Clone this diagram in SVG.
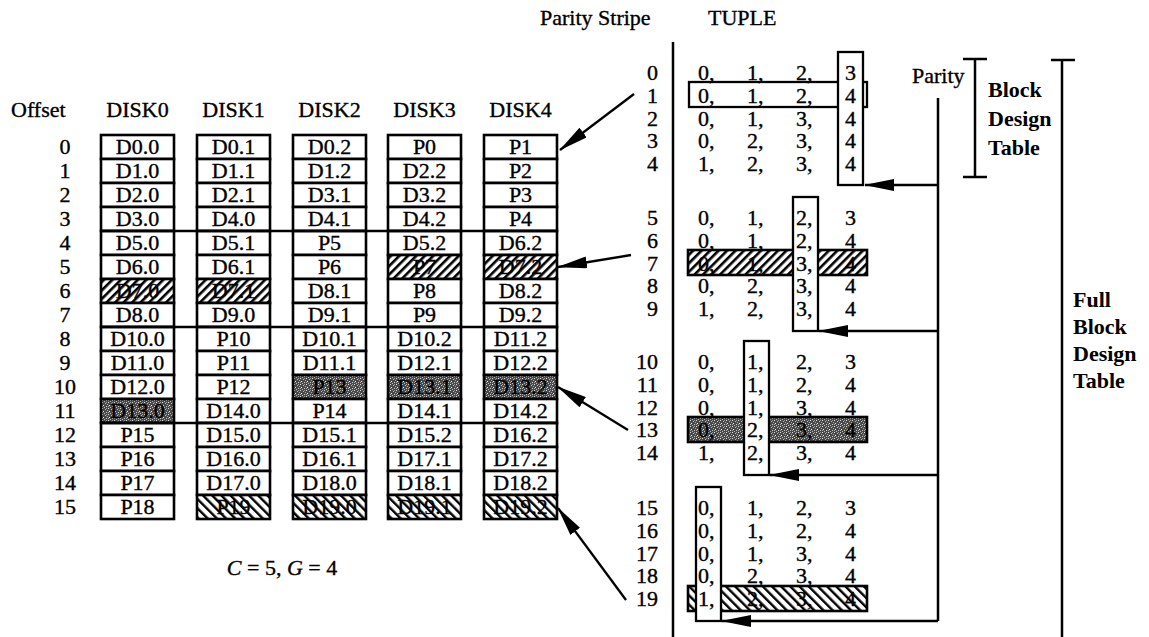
<svg xmlns="http://www.w3.org/2000/svg" width="1149" height="637" viewBox="0 0 1149 637">
<style>
text{font-family:"Liberation Serif","Times New Roman",serif;font-size:22px;fill:#000;stroke:#000;stroke-width:0.35}
.m{text-anchor:middle}
.e{text-anchor:end}
.b{font-weight:bold;stroke-width:0}
.cell{fill:#fff;stroke:#000;stroke-width:2.6}
.hf{fill:url(#hatchF);stroke:#000;stroke-width:2.6}
.hb{fill:url(#hatchB);stroke:#000;stroke-width:2.6}
.st{fill:url(#stip);stroke:#000;stroke-width:2.6}
.ln{stroke:#000;stroke-width:2.5;fill:none}
.box{fill:#fff;stroke:#000;stroke-width:2.3}
.hbox{fill:none;stroke:#000;stroke-width:2.3}
.arr{stroke:#000;stroke-width:2.3;fill:none;marker-end:url(#ah)}
</style>
<defs>
<pattern id="hatchF" width="6" height="6" patternUnits="userSpaceOnUse" patternTransform="rotate(45)"><rect width="6" height="6" fill="#fff"/><rect width="2.6" height="6" fill="#000"/></pattern>
<pattern id="hatchB" width="6.5" height="6.5" patternUnits="userSpaceOnUse" patternTransform="rotate(-45)"><rect width="6.5" height="6.5" fill="#fff"/><rect width="2.4" height="6.5" fill="#000"/></pattern>
<pattern id="stip" width="6" height="6" patternUnits="userSpaceOnUse"><rect width="6" height="6" fill="#4a4a4a"/><rect x="0" y="0" width="1" height="1" fill="#ddd"/><rect x="3" y="1" width="1" height="1" fill="#bbb"/><rect x="1" y="3" width="1" height="1" fill="#eee"/><rect x="4" y="4" width="1" height="1" fill="#ccc"/><rect x="5" y="2" width="1" height="1" fill="#aaa"/><rect x="2" y="5" width="1" height="1" fill="#bbb"/><rect x="4" y="0" width="1" height="1" fill="#999"/><rect x="0" y="4" width="1" height="1" fill="#aaa"/></pattern>
<marker id="ah" viewBox="0 0 30 12" refX="29" refY="6" markerWidth="30" markerHeight="12" markerUnits="userSpaceOnUse" orient="auto"><path d="M0,0 L30,6 L0,12 z" fill="#000"/></marker>
</defs>
<rect width="1149" height="637" fill="#fff"/>

<g id="headers">
<text x="11" y="117">Offset</text>
<text class="m" x="137.5" y="117">DISK0</text>
<text class="m" x="233.5" y="117">DISK1</text>
<text class="m" x="329.5" y="117">DISK2</text>
<text class="m" x="424.5" y="117">DISK3</text>
<text class="m" x="520.5" y="117">DISK4</text>
<text x="540" y="25">Parity Stripe</text>
<text x="708" y="25">TUPLE</text>
</g>

<g id="offsets">
<text class="m" x="65" y="154">0</text><text class="m" x="65" y="178">1</text><text class="m" x="65" y="202">2</text><text class="m" x="65" y="226">3</text>
<text class="m" x="65" y="250">4</text><text class="m" x="65" y="274">5</text><text class="m" x="65" y="298">6</text><text class="m" x="65" y="322">7</text>
<text class="m" x="65" y="346">8</text><text class="m" x="65" y="370">9</text><text class="m" x="65" y="394">10</text><text class="m" x="65" y="418">11</text>
<text class="m" x="65" y="442">12</text><text class="m" x="65" y="466">13</text><text class="m" x="65" y="490">14</text><text class="m" x="65" y="514">15</text>
</g>

<g id="disk0">
<rect class="cell" x="101" y="135" width="73" height="24"/><text class="m" x="137.5" y="154">D0.0</text>
<rect class="cell" x="101" y="159" width="73" height="24"/><text class="m" x="137.5" y="178">D1.0</text>
<rect class="cell" x="101" y="183" width="73" height="24"/><text class="m" x="137.5" y="202">D2.0</text>
<rect class="cell" x="101" y="207" width="73" height="24"/><text class="m" x="137.5" y="226">D3.0</text>
<rect class="cell" x="101" y="231" width="73" height="24"/><text class="m" x="137.5" y="250">D5.0</text>
<rect class="cell" x="101" y="255" width="73" height="24"/><text class="m" x="137.5" y="274">D6.0</text>
<rect class="hf" x="101" y="279" width="73" height="24"/><text class="m" x="137.5" y="298">D7.0</text>
<rect class="cell" x="101" y="303" width="73" height="24"/><text class="m" x="137.5" y="322">D8.0</text>
<rect class="cell" x="101" y="327" width="73" height="24"/><text class="m" x="137.5" y="346">D10.0</text>
<rect class="cell" x="101" y="351" width="73" height="24"/><text class="m" x="137.5" y="370">D11.0</text>
<rect class="cell" x="101" y="375" width="73" height="24"/><text class="m" x="137.5" y="394">D12.0</text>
<rect class="st" x="101" y="399" width="73" height="24"/><text class="m" x="137.5" y="418">D13.0</text>
<rect class="cell" x="101" y="423" width="73" height="24"/><text class="m" x="137.5" y="442">P15</text>
<rect class="cell" x="101" y="447" width="73" height="24"/><text class="m" x="137.5" y="466">P16</text>
<rect class="cell" x="101" y="471" width="73" height="24"/><text class="m" x="137.5" y="490">P17</text>
<rect class="cell" x="101" y="495" width="73" height="24"/><text class="m" x="137.5" y="514">P18</text>
</g>

<g id="disk1">
<rect class="cell" x="197" y="135" width="73" height="24"/><text class="m" x="233.5" y="154">D0.1</text>
<rect class="cell" x="197" y="159" width="73" height="24"/><text class="m" x="233.5" y="178">D1.1</text>
<rect class="cell" x="197" y="183" width="73" height="24"/><text class="m" x="233.5" y="202">D2.1</text>
<rect class="cell" x="197" y="207" width="73" height="24"/><text class="m" x="233.5" y="226">D4.0</text>
<rect class="cell" x="197" y="231" width="73" height="24"/><text class="m" x="233.5" y="250">D5.1</text>
<rect class="cell" x="197" y="255" width="73" height="24"/><text class="m" x="233.5" y="274">D6.1</text>
<rect class="hf" x="197" y="279" width="73" height="24"/><text class="m" x="233.5" y="298">D7.1</text>
<rect class="cell" x="197" y="303" width="73" height="24"/><text class="m" x="233.5" y="322">D9.0</text>
<rect class="cell" x="197" y="327" width="73" height="24"/><text class="m" x="233.5" y="346">P10</text>
<rect class="cell" x="197" y="351" width="73" height="24"/><text class="m" x="233.5" y="370">P11</text>
<rect class="cell" x="197" y="375" width="73" height="24"/><text class="m" x="233.5" y="394">P12</text>
<rect class="cell" x="197" y="399" width="73" height="24"/><text class="m" x="233.5" y="418">D14.0</text>
<rect class="cell" x="197" y="423" width="73" height="24"/><text class="m" x="233.5" y="442">D15.0</text>
<rect class="cell" x="197" y="447" width="73" height="24"/><text class="m" x="233.5" y="466">D16.0</text>
<rect class="cell" x="197" y="471" width="73" height="24"/><text class="m" x="233.5" y="490">D17.0</text>
<rect class="hb" x="197" y="495" width="73" height="24"/><text class="m" x="233.5" y="514">P19</text>
</g>

<g id="disk2">
<rect class="cell" x="293" y="135" width="73" height="24"/><text class="m" x="329.5" y="154">D0.2</text>
<rect class="cell" x="293" y="159" width="73" height="24"/><text class="m" x="329.5" y="178">D1.2</text>
<rect class="cell" x="293" y="183" width="73" height="24"/><text class="m" x="329.5" y="202">D3.1</text>
<rect class="cell" x="293" y="207" width="73" height="24"/><text class="m" x="329.5" y="226">D4.1</text>
<rect class="cell" x="293" y="231" width="73" height="24"/><text class="m" x="329.5" y="250">P5</text>
<rect class="cell" x="293" y="255" width="73" height="24"/><text class="m" x="329.5" y="274">P6</text>
<rect class="cell" x="293" y="279" width="73" height="24"/><text class="m" x="329.5" y="298">D8.1</text>
<rect class="cell" x="293" y="303" width="73" height="24"/><text class="m" x="329.5" y="322">D9.1</text>
<rect class="cell" x="293" y="327" width="73" height="24"/><text class="m" x="329.5" y="346">D10.1</text>
<rect class="cell" x="293" y="351" width="73" height="24"/><text class="m" x="329.5" y="370">D11.1</text>
<rect class="st" x="293" y="375" width="73" height="24"/><text class="m" x="329.5" y="394">P13</text>
<rect class="cell" x="293" y="399" width="73" height="24"/><text class="m" x="329.5" y="418">P14</text>
<rect class="cell" x="293" y="423" width="73" height="24"/><text class="m" x="329.5" y="442">D15.1</text>
<rect class="cell" x="293" y="447" width="73" height="24"/><text class="m" x="329.5" y="466">D16.1</text>
<rect class="cell" x="293" y="471" width="73" height="24"/><text class="m" x="329.5" y="490">D18.0</text>
<rect class="hb" x="293" y="495" width="73" height="24"/><text class="m" x="329.5" y="514">D19.0</text>
</g>

<g id="disk3">
<rect class="cell" x="388" y="135" width="73" height="24"/><text class="m" x="424.5" y="154">P0</text>
<rect class="cell" x="388" y="159" width="73" height="24"/><text class="m" x="424.5" y="178">D2.2</text>
<rect class="cell" x="388" y="183" width="73" height="24"/><text class="m" x="424.5" y="202">D3.2</text>
<rect class="cell" x="388" y="207" width="73" height="24"/><text class="m" x="424.5" y="226">D4.2</text>
<rect class="cell" x="388" y="231" width="73" height="24"/><text class="m" x="424.5" y="250">D5.2</text>
<rect class="hf" x="388" y="255" width="73" height="24"/><text class="m" x="424.5" y="274">P7</text>
<rect class="cell" x="388" y="279" width="73" height="24"/><text class="m" x="424.5" y="298">P8</text>
<rect class="cell" x="388" y="303" width="73" height="24"/><text class="m" x="424.5" y="322">P9</text>
<rect class="cell" x="388" y="327" width="73" height="24"/><text class="m" x="424.5" y="346">D10.2</text>
<rect class="cell" x="388" y="351" width="73" height="24"/><text class="m" x="424.5" y="370">D12.1</text>
<rect class="st" x="388" y="375" width="73" height="24"/><text class="m" x="424.5" y="394">D13.1</text>
<rect class="cell" x="388" y="399" width="73" height="24"/><text class="m" x="424.5" y="418">D14.1</text>
<rect class="cell" x="388" y="423" width="73" height="24"/><text class="m" x="424.5" y="442">D15.2</text>
<rect class="cell" x="388" y="447" width="73" height="24"/><text class="m" x="424.5" y="466">D17.1</text>
<rect class="cell" x="388" y="471" width="73" height="24"/><text class="m" x="424.5" y="490">D18.1</text>
<rect class="hb" x="388" y="495" width="73" height="24"/><text class="m" x="424.5" y="514">D19.1</text>
</g>

<g id="disk4">
<rect class="cell" x="484" y="135" width="73" height="24"/><text class="m" x="520.5" y="154">P1</text>
<rect class="cell" x="484" y="159" width="73" height="24"/><text class="m" x="520.5" y="178">P2</text>
<rect class="cell" x="484" y="183" width="73" height="24"/><text class="m" x="520.5" y="202">P3</text>
<rect class="cell" x="484" y="207" width="73" height="24"/><text class="m" x="520.5" y="226">P4</text>
<rect class="cell" x="484" y="231" width="73" height="24"/><text class="m" x="520.5" y="250">D6.2</text>
<rect class="hf" x="484" y="255" width="73" height="24"/><text class="m" x="520.5" y="274">D7.2</text>
<rect class="cell" x="484" y="279" width="73" height="24"/><text class="m" x="520.5" y="298">D8.2</text>
<rect class="cell" x="484" y="303" width="73" height="24"/><text class="m" x="520.5" y="322">D9.2</text>
<rect class="cell" x="484" y="327" width="73" height="24"/><text class="m" x="520.5" y="346">D11.2</text>
<rect class="cell" x="484" y="351" width="73" height="24"/><text class="m" x="520.5" y="370">D12.2</text>
<rect class="st" x="484" y="375" width="73" height="24"/><text class="m" x="520.5" y="394">D13.2</text>
<rect class="cell" x="484" y="399" width="73" height="24"/><text class="m" x="520.5" y="418">D14.2</text>
<rect class="cell" x="484" y="423" width="73" height="24"/><text class="m" x="520.5" y="442">D16.2</text>
<rect class="cell" x="484" y="447" width="73" height="24"/><text class="m" x="520.5" y="466">D17.2</text>
<rect class="cell" x="484" y="471" width="73" height="24"/><text class="m" x="520.5" y="490">D18.2</text>
<rect class="hb" x="484" y="495" width="73" height="24"/><text class="m" x="520.5" y="514">D19.2</text>
</g>

<g id="separators">
<line class="ln" x1="101" y1="231" x2="557" y2="231"/>
<line class="ln" x1="101" y1="327" x2="557" y2="327"/>
<line class="ln" x1="101" y1="423" x2="557" y2="423"/>
</g>

<g id="caption"><text class="m" x="282" y="575"><tspan font-style="italic">C</tspan> = 5, <tspan font-style="italic">G</tspan> = 4</text></g>

<g id="stripe-axis">
<line class="ln" x1="673" y1="42" x2="673" y2="637"/>
<text class="e" x="658" y="80">0</text><text class="e" x="658" y="102.8">1</text><text class="e" x="658" y="125.6">2</text><text class="e" x="658" y="148.4">3</text><text class="e" x="658" y="171.2">4</text>
<text class="e" x="658" y="225">5</text><text class="e" x="658" y="247.8">6</text><text class="e" x="658" y="270.6">7</text><text class="e" x="658" y="293.4">8</text><text class="e" x="658" y="316.2">9</text>
<text class="e" x="658" y="369">10</text><text class="e" x="658" y="391.8">11</text><text class="e" x="658" y="414.6">12</text><text class="e" x="658" y="437.4">13</text><text class="e" x="658" y="460.2">14</text>
<text class="e" x="658" y="515">15</text><text class="e" x="658" y="537.8">16</text><text class="e" x="658" y="560.6">17</text><text class="e" x="658" y="583.4">18</text><text class="e" x="658" y="606.2">19</text>
</g>

<g id="tuples-0">
<rect class="hbox" x="689" y="82" width="178" height="25"/>
<rect class="box" x="838" y="52" width="25" height="133"/>
<text x="698" y="80">0,</text><text x="747" y="80">1,</text><text x="796" y="80">2,</text><text x="845" y="80">3</text>
<text x="698" y="102.8">0,</text><text x="747" y="102.8">1,</text><text x="796" y="102.8">2,</text><text x="845" y="102.8">4</text>
<text x="698" y="125.6">0,</text><text x="747" y="125.6">1,</text><text x="796" y="125.6">3,</text><text x="845" y="125.6">4</text>
<text x="698" y="148.4">0,</text><text x="747" y="148.4">2,</text><text x="796" y="148.4">3,</text><text x="845" y="148.4">4</text>
<text x="698" y="171.2">1,</text><text x="747" y="171.2">2,</text><text x="796" y="171.2">3,</text><text x="845" y="171.2">4</text>
</g>

<g id="tuples-1">
<rect class="hf" x="688" y="250" width="179" height="25"/>
<rect class="box" x="793" y="197" width="25" height="134"/>
<text x="698" y="225">0,</text><text x="747" y="225">1,</text><text x="796" y="225">2,</text><text x="845" y="225">3</text>
<text x="698" y="247.8">0,</text><text x="747" y="247.8">1,</text><text x="796" y="247.8">2,</text><text x="845" y="247.8">4</text>
<text x="698" y="270.6">0,</text><text x="747" y="270.6">1,</text><text x="796" y="270.6">3,</text><text x="845" y="270.6">4</text>
<text x="698" y="293.4">0,</text><text x="747" y="293.4">2,</text><text x="796" y="293.4">3,</text><text x="845" y="293.4">4</text>
<text x="698" y="316.2">1,</text><text x="747" y="316.2">2,</text><text x="796" y="316.2">3,</text><text x="845" y="316.2">4</text>
</g>

<g id="tuples-2">
<rect class="st" x="688" y="417" width="179" height="25"/>
<rect class="box" x="744" y="341" width="25" height="134"/>
<text x="698" y="369">0,</text><text x="747" y="369">1,</text><text x="796" y="369">2,</text><text x="845" y="369">3</text>
<text x="698" y="391.8">0,</text><text x="747" y="391.8">1,</text><text x="796" y="391.8">2,</text><text x="845" y="391.8">4</text>
<text x="698" y="414.6">0,</text><text x="747" y="414.6">1,</text><text x="796" y="414.6">3,</text><text x="845" y="414.6">4</text>
<text x="698" y="437.4">0,</text><text x="747" y="437.4">2,</text><text x="796" y="437.4">3,</text><text x="845" y="437.4">4</text>
<text x="698" y="460.2">1,</text><text x="747" y="460.2">2,</text><text x="796" y="460.2">3,</text><text x="845" y="460.2">4</text>
</g>

<g id="tuples-3">
<rect class="hb" x="688" y="586" width="179" height="25"/>
<rect class="box" x="696" y="487" width="25" height="134"/>
<text x="698" y="515">0,</text><text x="747" y="515">1,</text><text x="796" y="515">2,</text><text x="845" y="515">3</text>
<text x="698" y="537.8">0,</text><text x="747" y="537.8">1,</text><text x="796" y="537.8">2,</text><text x="845" y="537.8">4</text>
<text x="698" y="560.6">0,</text><text x="747" y="560.6">1,</text><text x="796" y="560.6">3,</text><text x="845" y="560.6">4</text>
<text x="698" y="583.4">0,</text><text x="747" y="583.4">2,</text><text x="796" y="583.4">3,</text><text x="845" y="583.4">4</text>
<text x="698" y="606.2">1,</text><text x="747" y="606.2">2,</text><text x="796" y="606.2">3,</text><text x="845" y="606.2">4</text>
</g>

<g id="labels">
<text x="912" y="83">Parity</text>
<line class="ln" x1="975" y1="59" x2="975" y2="177"/>
<line class="ln" x1="963" y1="59" x2="987" y2="59"/>
<line class="ln" x1="963" y1="177" x2="987" y2="177"/>
<text class="b" x="988" y="97">Block</text>
<text class="b" x="988" y="126">Design</text>
<text class="b" x="988" y="155">Table</text>
<line class="ln" x1="1062" y1="60" x2="1062" y2="637"/>
<line class="ln" x1="1051" y1="60" x2="1075" y2="60"/>
<text class="b" x="1073" y="307">Full</text>
<text class="b" x="1073" y="334">Block</text>
<text class="b" x="1073" y="361">Design</text>
<text class="b" x="1073" y="388">Table</text>
</g>

<g id="connectors">
<line class="ln" x1="938" y1="98" x2="938" y2="621"/>
<line class="arr" x1="938" y1="185" x2="865" y2="185"/>
<line class="arr" x1="938" y1="331" x2="819" y2="331"/>
<line class="arr" x1="938" y1="475" x2="770" y2="475"/>
<line class="arr" x1="938" y1="621" x2="722" y2="621"/>
<line class="arr" x1="634" y1="94" x2="560" y2="150"/>
<line class="arr" x1="631" y1="255" x2="558" y2="267"/>
<line class="arr" x1="628" y1="430" x2="558" y2="387"/>
<line class="arr" x1="626" y1="600" x2="558" y2="508"/>
</g>
</svg>
